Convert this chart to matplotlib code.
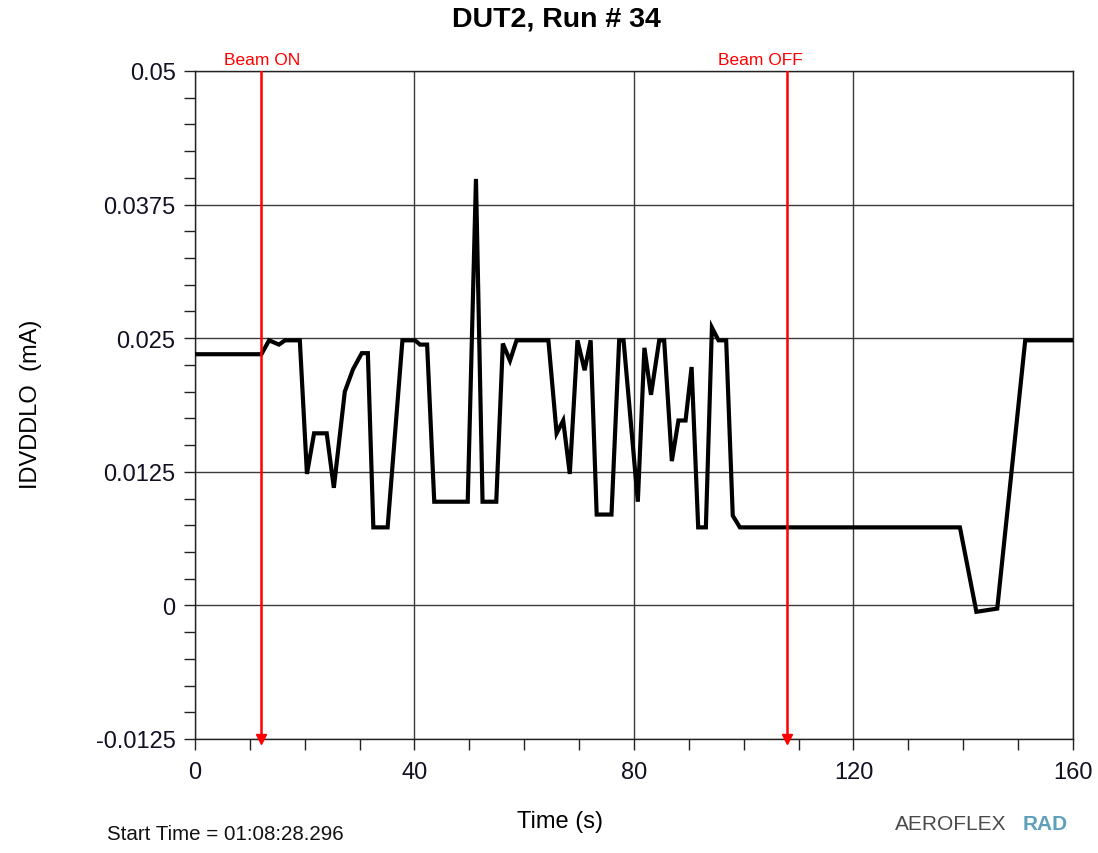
import matplotlib
matplotlib.use("Agg")
import matplotlib.pyplot as plt
from matplotlib.ticker import MultipleLocator, FixedLocator

plt.rcParams['font.family'] = ['Liberation Sans', 'DejaVu Sans']

# Supply current trace (time in s, current in mA)
time_s = [0.0, 12.1, 13.5, 15.3, 16.4, 19.1, 20.4, 21.7, 24.0, 25.3, 27.3, 28.8,
          30.4, 31.5, 32.5, 35.1, 37.8, 40.1, 41.0, 42.3, 43.6, 49.7, 51.2, 52.4,
          54.9, 56.1, 57.4, 58.6, 64.4, 65.9, 67.1, 68.3, 69.7, 71.0, 72.1, 73.2,
          75.9, 77.3, 78.1, 80.7, 81.9, 83.1, 84.6, 85.5, 86.9, 88.1, 89.4, 90.5,
          91.7, 93.1, 94.2, 95.4, 96.8, 98.0, 99.3, 139.4, 142.4, 146.2, 151.3, 160.0]
current_ma = [0.0235, 0.0235, 0.0248, 0.0244, 0.0248, 0.0248, 0.0123, 0.0161, 0.0161,
              0.0110, 0.0200, 0.0221, 0.0236, 0.0236, 0.0073, 0.0073, 0.0248, 0.0248,
              0.0244, 0.0244, 0.0097, 0.0097, 0.0399, 0.0097, 0.0097, 0.0245, 0.0229,
              0.0248, 0.0248, 0.0161, 0.0173, 0.0123, 0.0248, 0.0220, 0.0248, 0.0085,
              0.0085, 0.0248, 0.0248, 0.0097, 0.0241, 0.0197, 0.0248, 0.0248, 0.0135,
              0.0173, 0.0173, 0.0223, 0.0073, 0.0073, 0.0260, 0.0248, 0.0248, 0.0084,
              0.0073, 0.0073, -0.0006, -0.0003, 0.0248, 0.0248]

# Beam event markers
event_times = [12.0, 107.8]
event_labels = ["Beam ON", "Beam OFF"]
event_label_x = [12.3, 103.0]

y_ticks = [-0.0125, 0.0, 0.0125, 0.025, 0.0375, 0.05]
y_tick_labels = ["-0.0125", "0", "0.0125", "0.025", "0.0375", "0.05"]
x_ticks = [0, 40, 80, 120, 160]

fig = plt.figure(figsize=(10.98, 8.54), dpi=100)
ax = fig.add_axes([0.1776, 0.1335, 0.7996, 0.7822])

ax.set_xlim(0, 160)
ax.set_ylim(-0.0125, 0.05)

ax.grid(True, which='major', color='#3a3a3a', linewidth=1.0)
ax.set_axisbelow(True)

ax.plot(time_s, current_ma, color='black', linewidth=3.0,
        solid_joinstyle='miter', zorder=3)

for t, lab, lx in zip(event_times, event_labels, event_label_x):
    ax.axvline(t, color='#ff0000', linewidth=1.8, zorder=4)
    ax.plot([t], [-0.0125], marker='v', color='#ff0000', markersize=7,
            clip_on=False, zorder=5)
    ax.text(lx, 0.0504, lab, color='#ff0000', fontsize=12.5, ha='center',
            va='bottom', transform=ax.transData)

ax.xaxis.set_major_locator(FixedLocator(x_ticks))
ax.xaxis.set_minor_locator(MultipleLocator(10))
ax.yaxis.set_major_locator(FixedLocator(y_ticks))
ax.yaxis.set_minor_locator(MultipleLocator(0.0025))
ax.set_yticklabels(y_tick_labels)

ax.tick_params(which='both', direction='out', length=8, width=1.0, color='#222222',
               labelsize=17, labelcolor='#111122', pad=6)
ax.tick_params(axis='x', pad=8)

for s in ax.spines.values():
    s.set_color('#222222')
    s.set_linewidth(1.0)

fig.text(0.510, 0.037, "Time (s)", fontsize=17, ha='center', va='center')
fig.text(0.028, 0.526, "IDVDDLO  (mA)", fontsize=17, ha='center', va='center',
         rotation=90)
fig.text(0.507, 0.977, "DUT2, Run # 34", fontsize=20.5, fontweight='bold',
         ha='center', va='center')

fig.text(0.0975, 0.0115, "Start Time = 01:08:28.296", fontsize=14.8,
         color='#111111', ha='left', va='bottom')
fig.text(0.815, 0.035, "AEROFLEX", fontsize=15, color='#4a4a4a', ha='left',
         va='center', fontstretch='condensed')
fig.text(0.931, 0.035, "RAD", fontsize=15, color='#5f9fba', ha='left',
         va='center', fontweight='bold')

fig.savefig("out.png", dpi=100, facecolor='white')
